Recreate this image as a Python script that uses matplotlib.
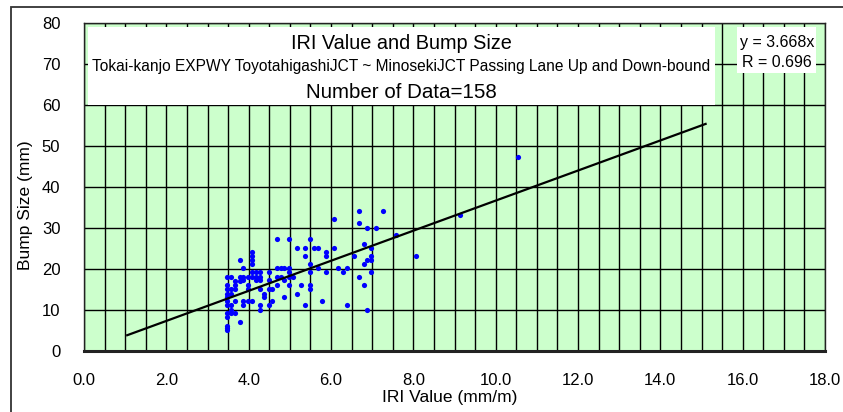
import numpy as np
import matplotlib.pyplot as plt
from matplotlib.patches import Rectangle
from matplotlib.ticker import MultipleLocator, FuncFormatter

# IRI value (mm/m) and bump size (mm)
iri = [3.48]*12 + [3.58]*6 + [3.68]*5 + [3.78]*4 + [3.87]*5 + [3.98]*4 + \
      [4.09]*7 + [4.17]*3 + [4.28]*6 + [4.38]*2 + [4.49]*4 + [4.57]*2 + \
      [4.68]*4 + [4.78]*2 + [4.87]*3 + [4.98]*5 + [5.08] + [5.18]*2 + [5.26] + \
      [5.38]*3 + [5.48]*5 + [5.58] + [5.68]*2 + [5.78] + [5.88]*3 + [6.07]*2 + \
      [6.18] + [6.28] + [6.39]*2 + [6.57] + [6.68]*3 + [6.79]*3 + [6.87]*3 + \
      [6.98]*4 + [7.09] + [7.27] + [7.57] + [8.06] + [9.14] + [10.55]
bump = [18.1, 16.1, 15.1, 14.0, 13.1, 12.2, 11.2, 9.3, 8.3, 6.1, 5.6, 5.1,
        18.1, 15.1, 14.0, 11.2, 10.1, 9.3,
        17.1, 16.1, 15.1, 12.2, 9.3,
        22.1, 18.1, 17.1, 7.1,
        20.2, 18.1, 17.3, 12.2, 11.2,
        18.1, 16.1, 15.1, 12.2,
        24.2, 23.2, 22.1, 21.1, 19.2, 18.1, 12.2,
        19.2, 18.1, 17.3,
        19.2, 18.1, 17.3, 15.1, 11.2, 10.1,
        14.0, 13.2,
        19.2, 17.3, 15.1, 11.2,
        15.1, 12.2,
        27.2, 20.2, 18.1, 16.2,
        20.2, 18.1,
        20.2, 17.3, 13.2,
        27.2, 20.2, 19.2, 18.1, 16.2,
        18.1,
        25.1, 14.0,
        16.2,
        25.1, 23.2, 11.2,
        27.2, 21.1, 19.2, 16.2, 15.1,
        25.1,
        25.1, 20.2,
        12.2,
        24.2, 23.2, 19.2,
        32.3, 25.1,
        20.2,
        19.2,
        20.2, 11.2,
        23.2,
        34.2, 31.3, 18.1,
        26.2, 21.1, 16.2,
        30.1, 22.1, 10.1,
        25.1, 23.2, 22.1, 19.2,
        30.1,
        34.2,
        28.3,
        23.2,
        33.1,
        47.2]

slope = 3.668
fit_x = [1.05, 15.1]

plt.rcParams['font.family'] = ['Liberation Sans', 'DejaVu Sans']

fig = plt.figure(figsize=(8.43, 4.12), dpi=100)
ax = fig.add_axes([84/843, 61/412, 741/843, 328/412])
ax.set_facecolor('#ccffcc')

ax.set_xlim(0, 18)
ax.set_ylim(0, 80)
ax.xaxis.set_major_locator(MultipleLocator(2))
ax.xaxis.set_minor_locator(MultipleLocator(0.5))
ax.yaxis.set_major_locator(MultipleLocator(10))
ax.xaxis.set_major_formatter(FuncFormatter(lambda v, p: f'{v:.1f}'))
ax.grid(True, which='both', axis='x', color='black', lw=1.0)
ax.grid(True, which='major', axis='y', color='black', lw=1.0)
ax.set_axisbelow(True)
ax.tick_params(which='both', length=0)
ax.tick_params(axis='x', pad=16, labelsize=12)
ax.tick_params(axis='y', pad=17, labelsize=12)
for s in ax.spines.values():
    s.set_color('#222222')
    s.set_linewidth(1.0)
ax.spines['bottom'].set_linewidth(2.2)

ax.scatter(iri, bump, s=14, color='#0000ff', zorder=3, linewidths=0)
fx = np.array(fit_x)
ax.plot(fx, slope*fx, color='black', lw=1.6, zorder=4)

ax.set_xlabel('IRI Value (mm/m)', fontsize=12.5, va='center')
ax.xaxis.set_label_coords(0.494, -0.143)
ax.set_ylabel('Bump Size (mm)', fontsize=12.5, va='center')
ax.yaxis.set_label_coords(-0.079, 0.445)

# title box
ax.add_patch(Rectangle((0.0054, 0.75), 0.846, 0.238, transform=ax.transAxes,
                       facecolor='white', edgecolor='none', zorder=5))
ax.text(0.428, 0.939, 'IRI Value and Bump Size', transform=ax.transAxes,
        ha='center', va='center', fontsize=14.3, zorder=6)
ax.text(0.428, 0.866,
        'Tokai-kanjo EXPWY ToyotahigashiJCT ~ MinosekiJCT Passing Lane Up and Down-bound',
        transform=ax.transAxes, ha='center', va='center', fontsize=11.2, zorder=6)
ax.text(0.428, 0.787, 'Number of Data=158', transform=ax.transAxes,
        ha='center', va='center', fontsize=14.8, zorder=6)

# equation box
ax.add_patch(Rectangle((0.881, 0.848), 0.107, 0.14, transform=ax.transAxes,
                       facecolor='white', edgecolor='none', zorder=5))
ax.text(0.935, 0.942, 'y = 3.668x', transform=ax.transAxes, ha='center',
        va='center', fontsize=11.5, zorder=6)
ax.text(0.935, 0.881, 'R = 0.696', transform=ax.transAxes, ha='center',
        va='center', fontsize=11.5, zorder=6)

# outer frame of the chart area
fig.add_artist(Rectangle((11/843, -0.1), 1.2, 1.1 - 7/412, transform=fig.transFigure,
                         facecolor='none', edgecolor='#333333', lw=1.3))

fig.savefig('out.png', dpi=100)
